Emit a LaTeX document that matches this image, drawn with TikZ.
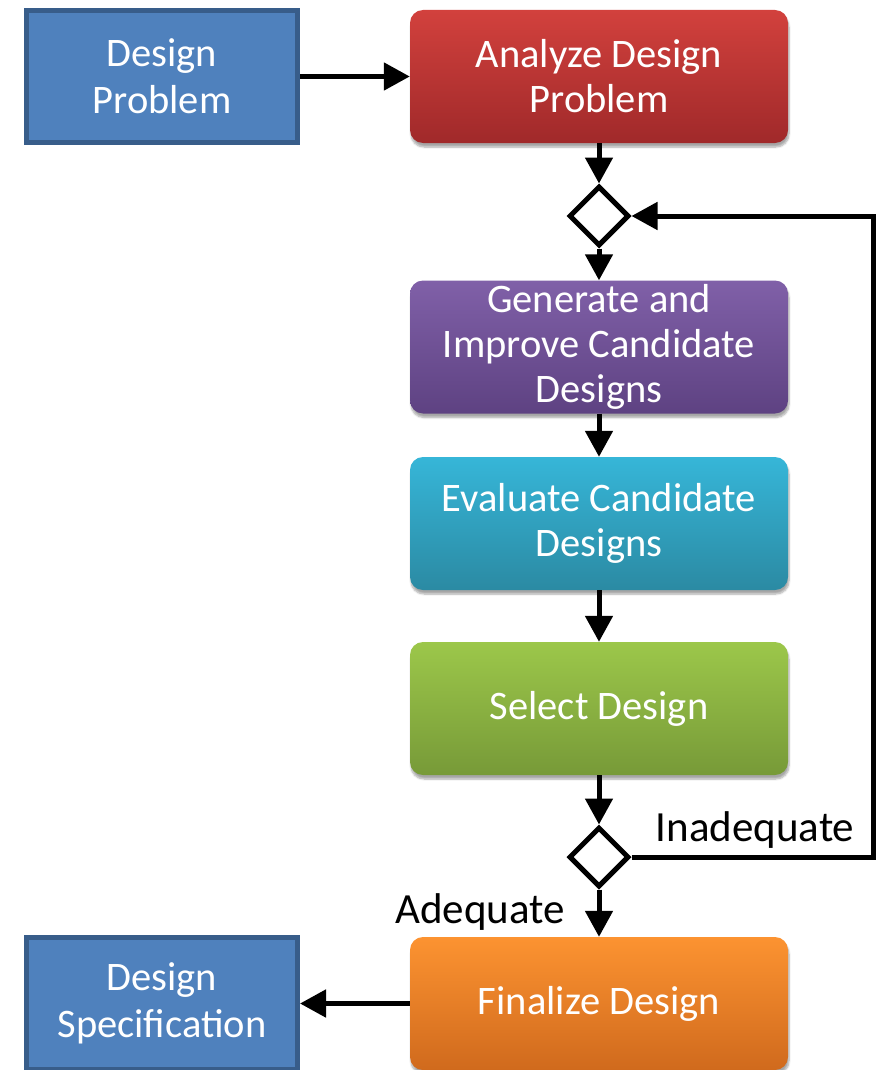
\documentclass[tikz,border=0pt]{standalone}
\usepackage{fontspec}
\setmainfont{Carlito}
\usetikzlibrary{arrows.meta,shapes.geometric,shadows.blur}

\definecolor{inputfill}{HTML}{4F81BD}
\definecolor{inputline}{HTML}{385D8A}
\definecolor{redtop}{HTML}{D2413D}
\definecolor{redbot}{HTML}{A0292A}
\definecolor{purtop}{HTML}{8060A8}
\definecolor{purbot}{HTML}{5E4282}
\definecolor{cyantop}{HTML}{36B6D8}
\definecolor{cyanbot}{HTML}{2B8AA3}
\definecolor{greentop}{HTML}{9CC74A}
\definecolor{greenbot}{HTML}{779A38}
\definecolor{orgtop}{HTML}{FC9331}
\definecolor{orgbot}{HTML}{D06A1D}

\tikzset{
  ioblock/.style={draw=inputline, fill=inputfill, line width=5pt,
    minimum width=271pt, minimum height=132pt, inner sep=0pt,
    text=white, align=center, font=\fontsize{40.5}{47}\selectfont},
  procblock/.style={rounded corners=13pt, minimum width=378pt,
    minimum height=133pt, inner sep=0pt, text=white, align=center,
    font=\fontsize{40.5}{45}\selectfont,
    blur shadow={shadow xshift=1pt, shadow yshift=-4pt, shadow blur steps=6,
      shadow opacity=35}},
  gate/.style={diamond, draw=black, fill=white, line width=5pt,
    minimum width=60pt, minimum height=60pt, inner sep=0pt},
  flow/.style={draw=black, line width=5pt,
    -{Triangle[length=26pt,width=27pt]}},
  tag/.style={text=black, font=\fontsize{43}{50}\selectfont, inner sep=0pt}
}

\begin{document}
\begin{tikzpicture}[x=1pt, y=-1pt]
  \useasboundingbox (0,0) rectangle (881,1070);

  % input and output documents
  \node[ioblock] (prob) at (162,76.5) {Design\\Problem};
  \node[ioblock] (spec) at (162,1003.5) {Design\\Specification};

  % process steps
  \node[procblock, top color=redtop, bottom color=redbot] (ana) at (599,76.5)
    {Analyze Design\\Problem};
  \node[gate] (d1) at (599,216) {};
  \node[procblock, top color=purtop, bottom color=purbot] (gen) at (599,347)
    {Generate and\\Improve Candidate\\Designs};
  \node[procblock, top color=cyantop, bottom color=cyanbot] (eval) at (599,523.5)
    {Evaluate Candidate\\Designs};
  \node[procblock, top color=greentop, bottom color=greenbot] (sel) at (599,708.5)
    {Select Design};
  \node[gate] (d2) at (599,857) {};
  \node[procblock, top color=orgtop, bottom color=orgbot] (fin) at (599,1003.5)
    {Finalize Design};

  % decision labels
  \node[tag] (inad) at (755,830) {Inadequate};
  \node[tag] (adeq) at (480,912) {Adequate};

  % connectors
  \draw[flow] (prob.east) -- (ana.west);
  \draw[flow] (ana.south) -- (d1.north);
  \draw[flow] (d1.south) -- (gen.north);
  \draw[flow] (gen.south) -- (eval.north);
  \draw[flow] (eval.south) -- (sel.north);
  \draw[flow] (sel.south) -- (d2.north);
  \draw[flow] (d2.south) -- (fin.north);
  \draw[flow] (fin.west) -- (spec.east);
  \coordinate (loop) at (873,857);
  \draw[flow, line join=miter] (d2.east) -- (loop) |- (d1.east);
\end{tikzpicture}
\end{document}
